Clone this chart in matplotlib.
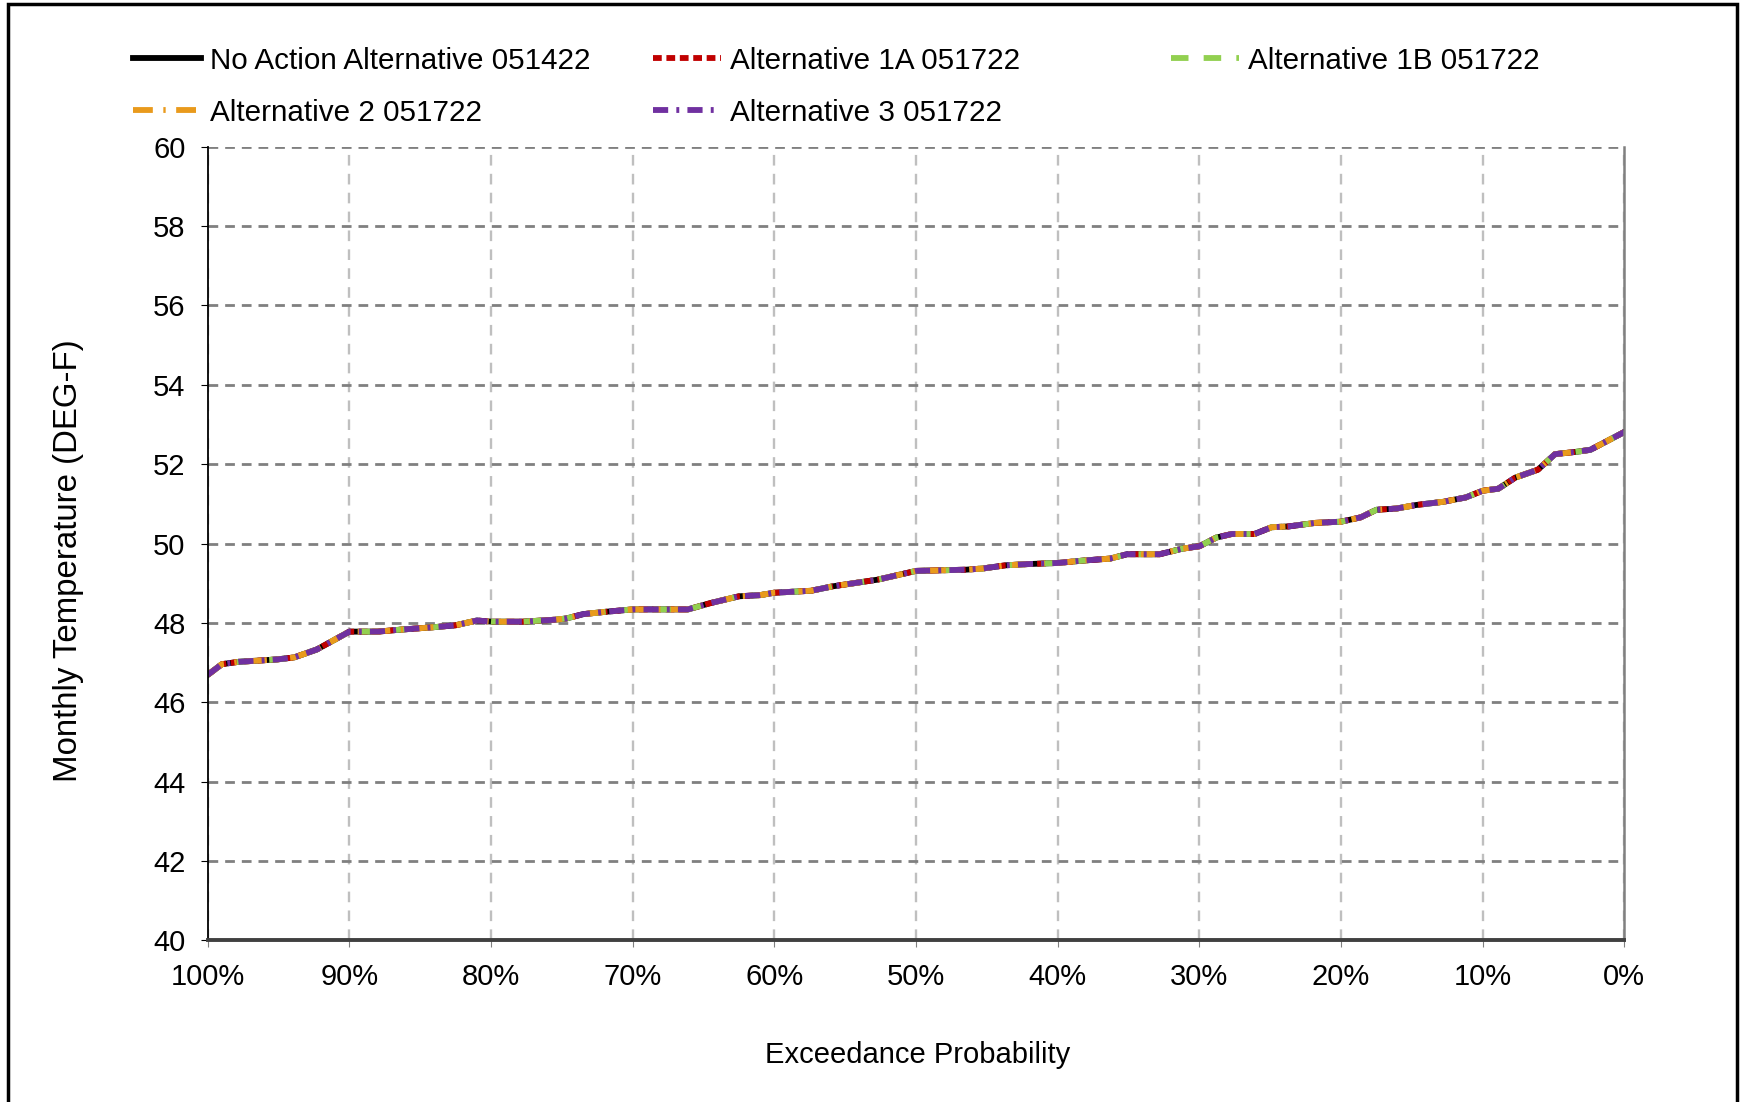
import numpy as np
import matplotlib
matplotlib.use('Agg')
import matplotlib.pyplot as plt
from matplotlib.patches import Rectangle
from matplotlib.ticker import FuncFormatter

plt.rcParams['font.family'] = ['Liberation Sans', 'DejaVu Sans']

# exceedance probability (%) and monthly temperature (deg F)
exceed = [100, 99.0, 97.8, 95.1, 93.9, 92.3, 90.0, 88.0, 86.4, 84.1, 82.5, 81.0,
          79.9, 77.8, 75.5, 74.7, 73.5, 71.9, 70.0, 66.1, 64.5, 62.5, 61.0, 60.0,
          57.4, 55.9, 52.7, 50.0, 46.5, 45.3, 43.7, 42.2, 40.0, 38.2, 36.3, 35.1,
          32.8, 31.2, 30.0, 28.8, 27.7, 26.1, 24.9, 23.7, 21.8, 20.0, 18.6, 17.5,
          16.1, 14.7, 12.8, 11.2, 10.0, 8.9, 7.7, 6.1, 4.9, 3.4, 2.4, 0.0]
temp = [46.69, 46.96, 47.02, 47.08, 47.13, 47.33, 47.78, 47.78, 47.83, 47.89, 47.94, 48.06,
        48.03, 48.03, 48.08, 48.11, 48.22, 48.28, 48.34, 48.34, 48.50, 48.67, 48.70, 48.76,
        48.81, 48.92, 49.09, 49.31, 49.34, 49.37, 49.45, 49.48, 49.51, 49.57, 49.62, 49.73,
        49.73, 49.87, 49.93, 50.15, 50.24, 50.24, 50.41, 50.43, 50.52, 50.55, 50.66, 50.85,
        50.88, 50.97, 51.05, 51.16, 51.33, 51.38, 51.66, 51.86, 52.25, 52.31, 52.36, 52.81]

names = ['No Action Alternative 051422', 'Alternative 1A 051722', 'Alternative 1B 051722',
         'Alternative 2 051722', 'Alternative 3 051722']
colors = ['#000000', '#c00000', '#92d050', '#e99a1c', '#7030a0']
styles = ['-', (0, (1.5, 0.8)), (0, (3.0, 2.6)), (0, (3.4, 1.8, 0.4, 1.8)), (0, (2.6, 1.4, 0.5, 1.4))]

fig = plt.figure(figsize=(17.41, 11.02), dpi=100)
ax = fig.add_axes([0.1193, 0.1466, 0.8137, 0.7204])

lines = []
for name, c, ls in zip(names, colors, styles):
    l, = ax.plot(exceed, temp, color=c, linestyle=ls, lw=4.2, label=name)
    lines.append(l)

ax.set_xlim(100, 0)
ax.set_ylim(40, 60)
ax.set_xticks(np.arange(100, -1, -10))
ax.set_yticks(np.arange(40, 61, 2))
ax.xaxis.set_major_formatter(FuncFormatter(lambda v, p: '%d%%' % v))

ax.yaxis.grid(True, color='#808080', linestyle=(0, (3.5, 2.5)), lw=2.0)
ax.xaxis.grid(True, color='#bfbfbf', linestyle=(0, (4.5, 3.5)), lw=1.7)
ax.set_axisbelow(True)

ax.spines['top'].set_visible(False)
ax.spines['left'].set_color('black')
ax.spines['left'].set_linewidth(1.3)
ax.spines['bottom'].set_color('#404040')
ax.spines['bottom'].set_linewidth(2.8)
ax.spines['right'].set_color('#808080')
ax.spines['right'].set_linewidth(1.8)

ax.tick_params(axis='both', labelsize=21, length=5, pad=11)
ax.tick_params(axis='x', color='#808080')

fig.text(0.5273, 1 - 1055 / 1102, 'Exceedance Probability', fontsize=21, ha='center', va='center')
fig.text(0.0396, 1 - 561 / 1102, 'Monthly Temperature (DEG-F)', fontsize=23.8,
         ha='center', va='center', rotation=90)

# legend laid out in columns like the original
cols = [([0, 3], 0.0764), ([1, 4], 0.375), ([2], 0.6726)]
for idx, x0 in cols:
    leg = fig.legend([lines[i] for i in idx], [names[i] for i in idx], loc='upper left',
                     bbox_to_anchor=(x0, 0.9575), frameon=False, fontsize=21.3,
                     borderpad=0, borderaxespad=0, handlelength=2.3, handletextpad=0.3,
                     labelspacing=0.8)

fig.patches.append(Rectangle((8 / 1741, -0.05), 1729 / 1741, 1.05 - 4 / 1102,
                             transform=fig.transFigure, fill=False, ec='black', lw=2.5))

fig.savefig('out.png', dpi=100)
